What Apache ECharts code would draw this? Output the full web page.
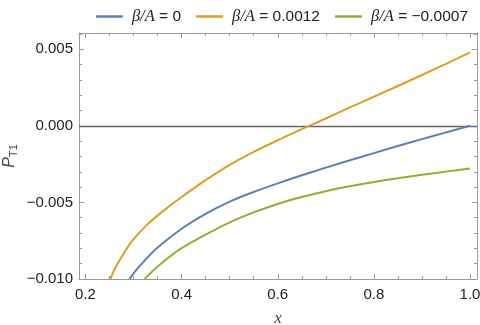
<!DOCTYPE html>
<html>
<head>
<meta charset="utf-8">
<script src="https://cdn.jsdelivr.net/npm/echarts@6/dist/echarts.min.js"></script>
<style>
  html, body { margin: 0; padding: 0; background: #fff; }
  #chart { width: 480px; height: 325px; }
</style>
</head>
<body>
<div id="chart"></div>
<script>
// values
const seriesNames = ['β/A = 0', 'β/A = 0.0012', 'β/A = −0.0007']
const blueX = [0.2916, 0.30, 0.32, 0.35, 0.40, 0.45, 0.50, 0.55, 0.60, 0.65, 0.70, 0.75, 0.80, 0.85, 0.90, 0.95, 1.00]
const blueY = [-0.0100, -0.00963, -0.0089, -0.00795, -0.00672, -0.00575, -0.00495, -0.00432, -0.00376, -0.00323, -0.00273, -0.00225, -0.00178, -0.00132, -0.00087, -0.00043, 0]
const orangeX = [0.252, 0.26, 0.28, 0.30, 0.33, 0.36, 0.40, 0.45, 0.50, 0.55, 0.60, 0.65, 0.70, 0.75, 0.80, 0.85, 0.90, 0.95, 1.00]
const orangeY = [-0.0100, -0.0094, -0.0083, -0.0074, -0.0064, -0.0056, -0.00465, -0.00355, -0.00255, -0.0017, -0.00094, -0.00022, 0.00048, 0.0012, 0.0019, 0.0026, 0.00332, 0.00405, 0.0048]
const greenX = [0.323, 0.335, 0.35, 0.375, 0.40, 0.45, 0.50, 0.55, 0.60, 0.65, 0.70, 0.75, 0.80, 0.85, 0.90, 0.95, 1.00]
const greenY = [-0.0100, -0.00962, -0.00919, -0.00855, -0.00798, -0.0071, -0.0063, -0.00565, -0.0051, -0.00465, -0.00427, -0.00395, -0.00367, -0.00342, -0.0032, -0.00299, -0.00279]
const colors = ['#5e81b5', '#e19c24', '#8fb032']

const xMin = 0.1865
const xMax = 1.0145
const yMin = -0.010
const yMax = 0.00606

const frameColor = '#9a9a9a'
const labelFont = 'Liberation Sans'

function pairs(xs, ys) {
  return xs.map((x, i) => [x, ys[i]])
}

function isStep(v, step) {
  const k = v / step
  return Math.abs(k - Math.round(k)) < 1e-6
}

function fmtY(v) {
  if (!isStep(v, 0.005)) return ''
  const s = Math.abs(v).toFixed(3)
  return v < -1e-9 ? '\u2212' + s : s
}

function fmtX(v) {
  if (!isStep(v, 0.2)) return ''
  return v.toFixed(1)
}

const chart = echarts.init(document.getElementById('chart'))

const baseX = {
  type: 'value',
  min: xMin,
  max: xMax,
  splitNumber: 4,
  axisLine: { show: true, onZero: false, lineStyle: { color: frameColor, width: 1 } },
  axisTick: { show: true, inside: true, length: 5, lineStyle: { color: frameColor } },
  minorTick: { show: true, splitNumber: 4, length: 3, lineStyle: { color: frameColor } },
  splitLine: { show: false }
}
const baseY = {
  type: 'value',
  min: yMin,
  max: yMax,
  interval: 0.005,
  axisLine: { show: true, onZero: false, lineStyle: { color: frameColor, width: 1 } },
  axisTick: { show: true, inside: true, length: 5, lineStyle: { color: frameColor } },
  minorTick: { show: true, splitNumber: 5, length: 3, lineStyle: { color: frameColor } },
  splitLine: { show: false }
}

const data = [pairs(blueX, blueY), pairs(orangeX, orangeY), pairs(greenX, greenY)]

const series = data.map((d, i) => ({
  name: seriesNames[i],
  type: 'line',
  data: d,
  smooth: 0.3,
  symbol: 'none',
  lineStyle: { width: 2, color: colors[i] },
  itemStyle: { color: colors[i] },
  z: 3 + i
}))
series[0].markLine = {
  silent: true,
  symbol: 'none',
  label: { show: false },
  lineStyle: { color: '#666', width: 1.4, type: 'solid' },
  data: [{ yAxis: 0 }],
  z: 1
}

chart.setOption({
  animation: false,
  color: colors,
  grid: { left: 79, top: 33, right: 3, bottom: 46, containLabel: false, outerBoundsMode: 'none' },
  legend: {
    top: 3,
    right: 7,
    icon: 'rect',
    itemWidth: 27,
    itemHeight: 2.5,
    itemGap: 15,
    formatter: name => '{g|}' + name.replace('β/A', '{i|β/A}'),
    textStyle: {
      fontFamily: labelFont,
      fontSize: 15.5,
      color: '#222',
      rich: {
        g: { width: 4 },
        i: { fontFamily: 'Liberation Serif', fontStyle: 'italic', fontSize: 16.5, color: '#222' }
      }
    }
  },
  xAxis: [
    Object.assign({}, baseX, {
      position: 'bottom',
      name: 'x',
      nameLocation: 'middle',
      nameGap: 31,
      nameTextStyle: { fontFamily: 'Liberation Serif', fontStyle: 'italic', fontSize: 17, color: '#444' },
      axisLabel: { formatter: fmtX, fontFamily: labelFont, fontSize: 15, color: '#222', margin: 8 }
    }),
    Object.assign({}, baseX, {
      position: 'top',
      axisLabel: { show: false }
    })
  ],
  yAxis: [
    Object.assign({}, baseY, {
      position: 'left',
      name: '{p|P}{s|T1}',
      nameLocation: 'middle',
      nameGap: 60,
      nameRotate: 90,
      nameMoveOverlap: false,
      nameTextStyle: {
        rich: {
          p: { fontFamily: labelFont, fontStyle: 'italic', fontSize: 16, color: '#444' },
          s: { fontFamily: labelFont, fontSize: 11, color: '#444', verticalAlign: 'bottom', padding: [8, 0, 0, 0] }
        }
      },
      axisLabel: { formatter: fmtY, fontFamily: labelFont, fontSize: 15, color: '#222', margin: 6 }
    }),
    Object.assign({}, baseY, {
      position: 'right',
      axisLabel: { show: false }
    })
  ],
  series: series
})
</script>
</body>
</html>
